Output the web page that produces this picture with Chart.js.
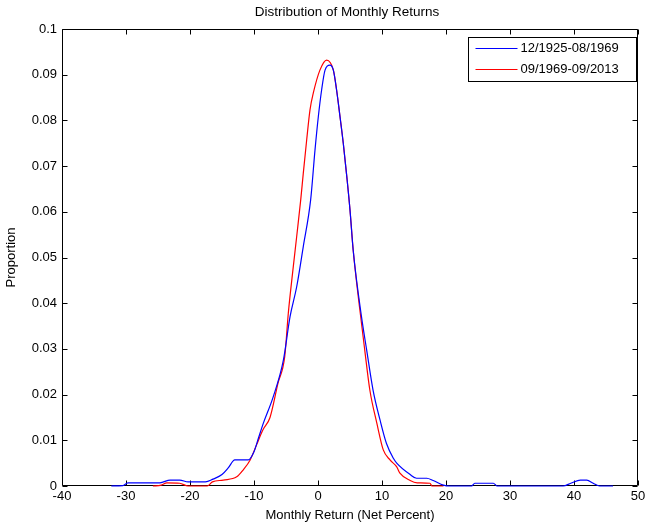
<!DOCTYPE html>
<html>
<head>
<meta charset="utf-8">
<script src="https://cdn.jsdelivr.net/npm/chart.js@4.4.1/dist/chart.umd.min.js"></script>
<style>
  html, body { margin: 0; padding: 0; background: #fff; }
  #wrap { width: 650px; height: 525px; position: relative; }
</style>
</head>
<body>
<div id="wrap"><canvas id="c" width="650" height="525"></canvas></div>
<script>
const chartTitle = 'Distribution of Monthly Returns';
const xAxisTitle = 'Monthly Return (Net Percent)';
const yAxisTitle = 'Proportion';
const seriesNames = ['12/1925-08/1969', '09/1969-09/2013'];
const xTickLabels = ['-40', '-30', '-20', '-10', '0', '10', '20', '30', '40', '50'];
const yTickLabels = ['0', '0.01', '0.02', '0.03', '0.04', '0.05', '0.06', '0.07', '0.08', '0.09', '0.1'];

const blueX = [-32.3, -30.5, -29.7, -24.7, -23.1, -21.6, -20.3, -17.6, -16.4, -15, -14, -13, -10.9, -10, -9.3, -8.55, -7, -5.4, -4.375, -3.33, -2.3, -1.15, -0.47, 0.05, 0.57, 1.1, 1.87, 2.4, 2.9, 3.44, 3.95, 4.5, 5.0, 5.5, 6.8, 7.6, 8.6, 9.7, 10.7, 11.8, 12.3, 14.4, 15.4, 17, 18, 19.6, 20.5, 24, 24.5, 27.4, 28, 38.3, 39.5, 41, 42, 43, 44, 46.1];
const blueY = [0, 0.0001, 0.0007, 0.0007, 0.0013, 0.0013, 0.0009, 0.0009, 0.0015, 0.0025, 0.004, 0.0057, 0.0057, 0.0075, 0.0105, 0.0137, 0.0195, 0.0276, 0.037, 0.0436, 0.0524, 0.0626, 0.0735, 0.0808, 0.0867, 0.091, 0.0921, 0.091, 0.0867, 0.0808, 0.075, 0.0677, 0.0604, 0.0516, 0.037, 0.0298, 0.021, 0.0144, 0.0093, 0.006, 0.005, 0.0025, 0.0017, 0.0017, 0.0012, 0.0002, 0, 0, 0.0006, 0.0006, 0, 0, 0.0006, 0.0013, 0.0013, 0.0006, 0, 0];

const redX = [-25.8, -24.5, -23.6, -21.6, -20.3, -17.3, -16.5, -14.8, -12.7, -11.7, -10.6, -9.6, -8.6, -7.5, -6.25, -5.2, -4.64, -3.86, -3.33, -2.7, -2.3, -1.77, -1.25, -0.73, 0.3, 1.35, 2.4, 2.9, 3.44, 3.95, 4.5, 5.0, 5.5, 6.5, 7.3, 8.1, 9.2, 10.2, 11.25, 12.3, 12.8, 14.4, 15.5, 17.5, 17.8, 19.6];
const redY = [0, 0.0002, 0.0007, 0.0006, 0, 0, 0.0009, 0.0013, 0.002, 0.0035, 0.0057, 0.009, 0.0123, 0.015, 0.0225, 0.0283, 0.0378, 0.048, 0.0546, 0.0626, 0.0684, 0.0757, 0.0823, 0.086, 0.091, 0.0932, 0.091, 0.0867, 0.0808, 0.075, 0.0677, 0.0604, 0.0516, 0.039, 0.0298, 0.021, 0.0137, 0.0079, 0.0057, 0.0042, 0.0028, 0.0012, 0.0007, 0.0006, 0, 0];

const seriesColors = ['rgb(0,0,255)', 'rgb(255,0,0)'];
const FONT = 'Liberation Sans, Arial, sans-serif';

const frameAndTicks = {
  id: 'frameAndTicks',
  beforeDatasetsDraw(chart) {
    const ctx = chart.ctx;
    const a = chart.chartArea;
    const xs = chart.scales.x, ys = chart.scales.y;
    const L = Math.round(a.left) + 0.5, R = Math.round(a.right) - 0.5;
    const T = Math.round(a.top) + 0.5, B = Math.round(a.bottom) - 0.5;
    ctx.save();
    ctx.strokeStyle = '#000';
    ctx.lineWidth = 1;
    ctx.beginPath();
    ctx.rect(L, T, R - L, B - T);
    const tl = 5;
    xs.ticks.forEach(t => {
      const px = Math.round(xs.getPixelForValue(t.value)) + 0.5;
      ctx.moveTo(px, B); ctx.lineTo(px, B - tl);
      ctx.moveTo(px, T); ctx.lineTo(px, T + tl);
    });
    ys.ticks.forEach(t => {
      const py = Math.round(ys.getPixelForValue(t.value)) + 0.5;
      ctx.moveTo(L, py); ctx.lineTo(L + tl, py);
      ctx.moveTo(R, py); ctx.lineTo(R - tl, py);
    });
    ctx.stroke();

    // title centred over the axes
    ctx.fillStyle = '#000';
    ctx.font = '13.5px ' + FONT;
    ctx.textAlign = 'center';
    ctx.textBaseline = 'middle';
    ctx.fillText(chartTitle, (a.left + a.right) / 2 - 3, 12.5);
    ctx.restore();
  },
  afterDraw(chart) {
    const ctx = chart.ctx;
    const a = chart.chartArea;
    ctx.save();
    // legend box inside the axes (upper right)
    const bw = 168, bh = 44;
    const bx = Math.round(a.right) - 2 - bw + 0.5;
    const by = Math.round(a.top) + 8 + 0.5;
    ctx.fillStyle = '#fff';
    ctx.strokeStyle = '#000';
    ctx.lineWidth = 1;
    ctx.fillRect(bx, by, bw, bh);
    ctx.strokeRect(bx, by, bw, bh);
    ctx.font = '13px ' + FONT;
    ctx.textBaseline = 'middle';
    ctx.textAlign = 'left';
    chart.data.datasets.forEach((ds, i) => {
      const ly = by + 11 + i * 21;
      ctx.strokeStyle = ds.borderColor;
      ctx.lineWidth = 1.2;
      ctx.beginPath();
      ctx.moveTo(bx + 7, ly);
      ctx.lineTo(bx + 49, ly);
      ctx.stroke();
      ctx.fillStyle = '#000';
      ctx.fillText(ds.label, bx + 52, ly);
    });
    ctx.restore();
  }
};

const toPts = (xs, ys) => xs.map((x, i) => ({ x: x, y: ys[i] }));

new Chart(document.getElementById('c'), {
  type: 'line',
  data: {
    datasets: [
      { label: seriesNames[0], data: toPts(blueX, blueY), borderColor: seriesColors[0], borderWidth: 1.2, pointRadius: 0, fill: false, cubicInterpolationMode: 'monotone', clip: 2 },
      { label: seriesNames[1], data: toPts(redX, redY), borderColor: seriesColors[1], borderWidth: 1.2, pointRadius: 0, fill: false, cubicInterpolationMode: 'monotone', clip: 2 }
    ]
  },
  options: {
    responsive: false,
    animation: false,
    layout: { padding: { top: 29, right: 12, left: 0, bottom: 0 } },
    plugins: {
      legend: { display: false },
      tooltip: { enabled: false },
      title: { display: false }
    },
    scales: {
      x: {
        type: 'linear', min: -40, max: 50,
        afterFit: s => { s.height = 39; },
        ticks: {
          stepSize: 10, color: '#000', padding: 3, maxRotation: 0, autoSkip: false,
          font: { family: FONT, size: 13 },
          callback: (v, i) => xTickLabels[i]
        },
        grid: { drawOnChartArea: false, drawTicks: false },
        border: { display: false },
        title: { display: true, text: xAxisTitle, color: '#000', font: { family: FONT, size: 13 }, padding: { top: 0, bottom: 2 } }
      },
      y: {
        min: 0, max: 0.1,
        afterFit: s => { s.width = 62; },
        ticks: {
          stepSize: 0.01, color: '#000', padding: 5, autoSkip: false,
          font: { family: FONT, size: 13 },
          callback: (v, i) => yTickLabels[i]
        },
        grid: { drawOnChartArea: false, drawTicks: false },
        border: { display: false },
        title: { display: true, text: yAxisTitle, color: '#000', font: { family: FONT, size: 13 }, padding: { top: 4, bottom: 0 } }
      }
    }
  },
  plugins: [frameAndTicks]
});
</script>
</body>
</html>
